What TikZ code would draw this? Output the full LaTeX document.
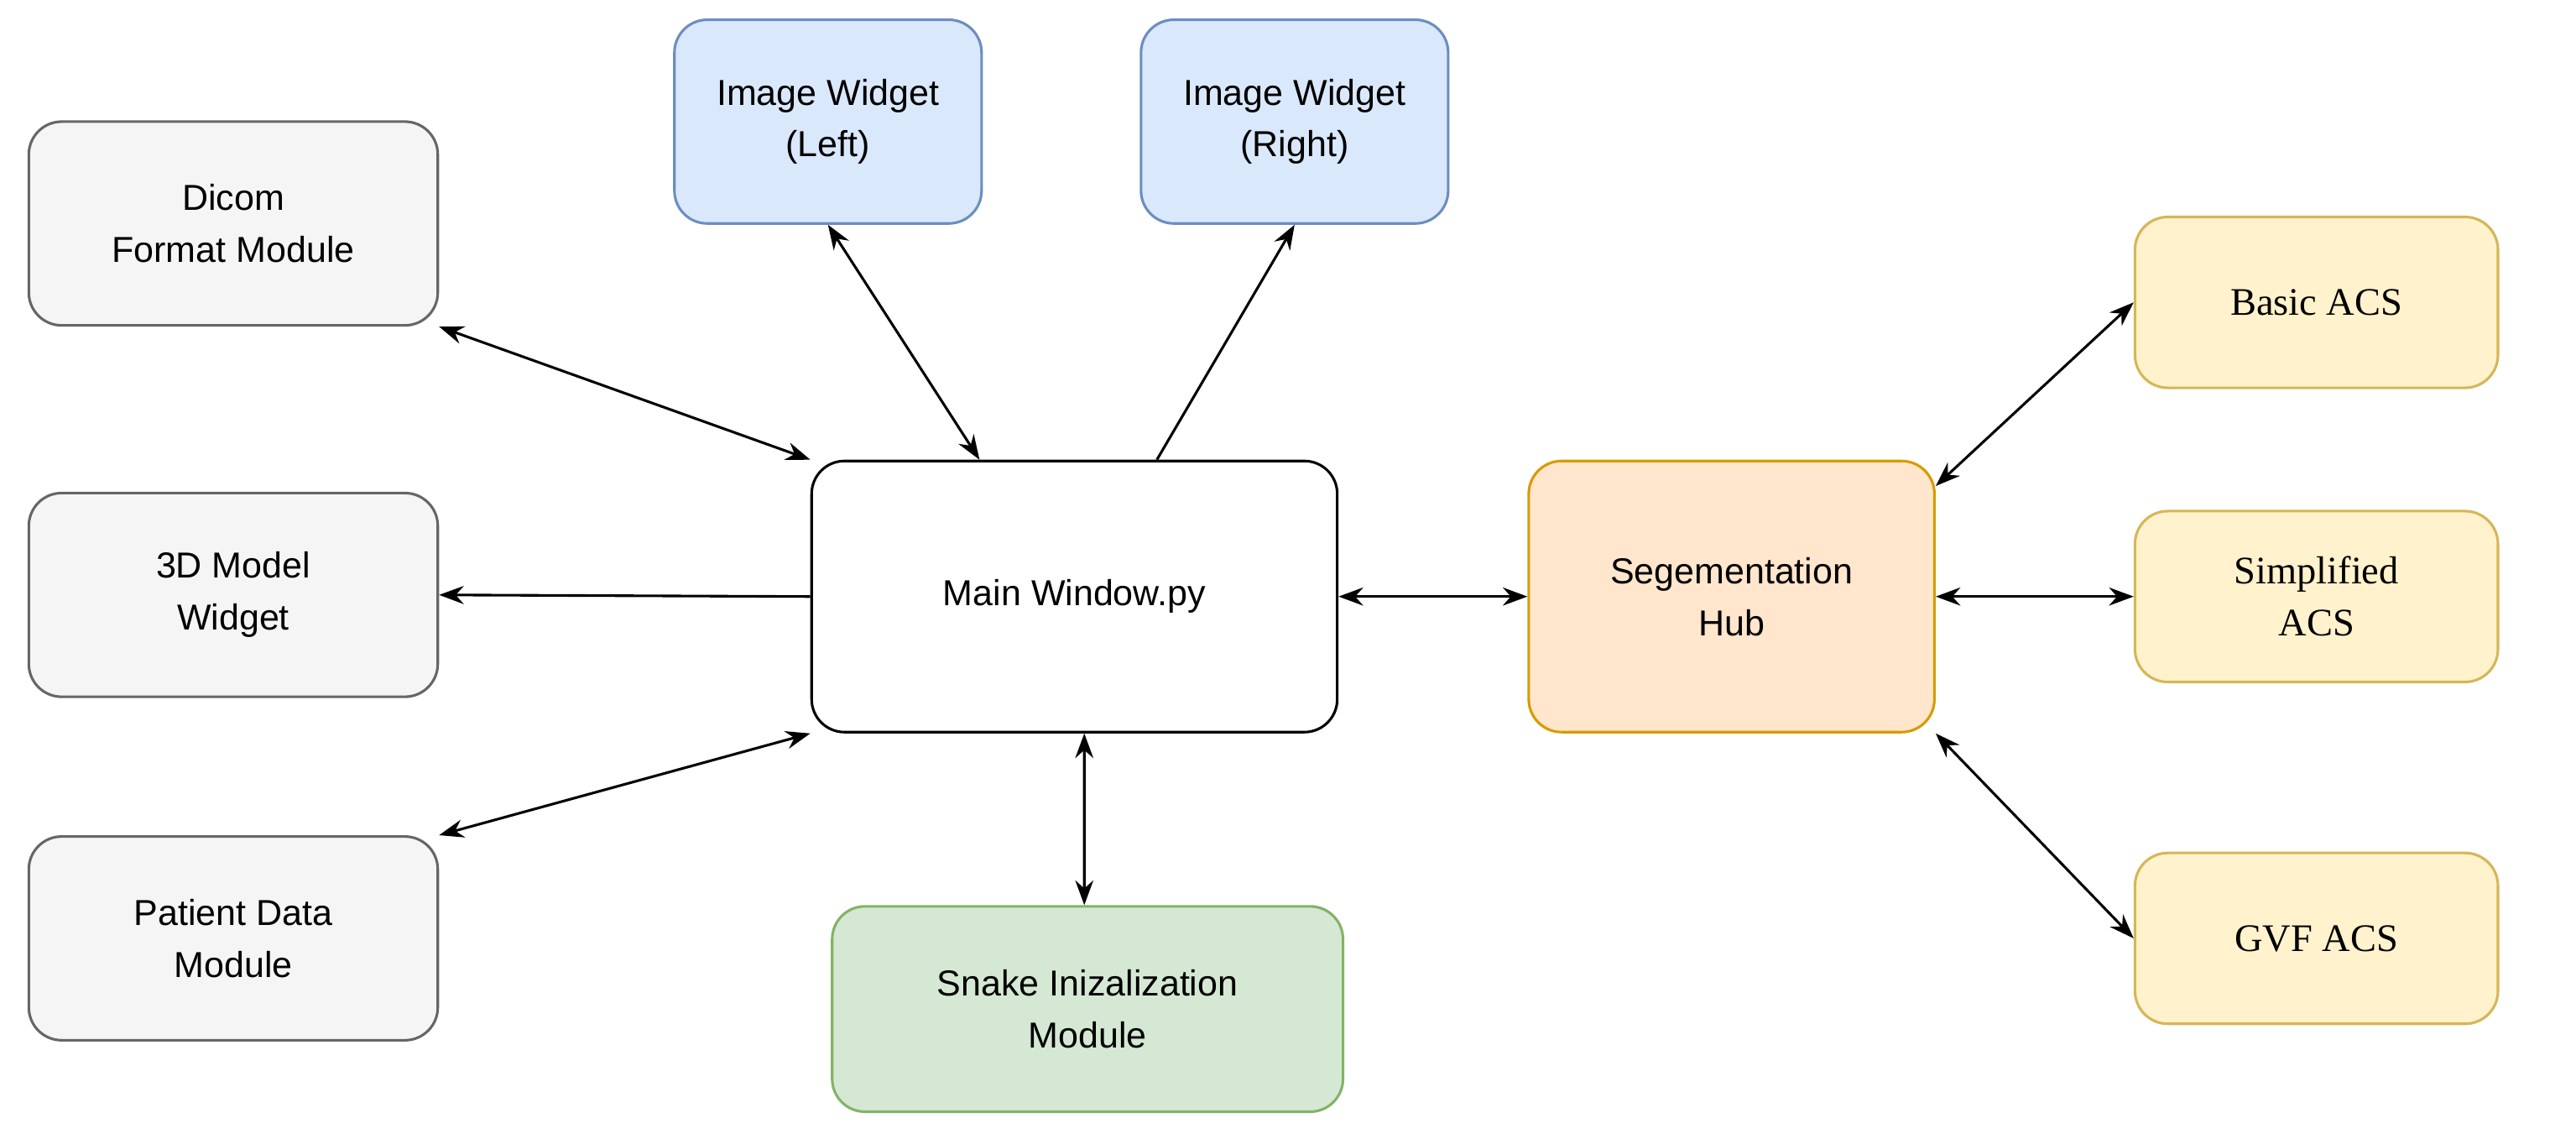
\documentclass[tikz,border=0pt]{standalone}
\usepackage{fontspec}
\setmainfont{Liberation Sans}
\newfontfamily\acsfont{Liberation Serif}
\usetikzlibrary{arrows.meta}
\usetikzlibrary{positioning}

\definecolor{grayfill}{HTML}{F5F5F5}
\definecolor{graydraw}{HTML}{666666}
\definecolor{bluefill}{HTML}{DAE8FC}
\definecolor{bluedraw}{HTML}{6C8EBF}
\definecolor{orangefill}{HTML}{FFE6CC}
\definecolor{orangedraw}{HTML}{D79B00}
\definecolor{greenfill}{HTML}{D5E8D4}
\definecolor{greendraw}{HTML}{82B366}
\definecolor{yellowfill}{HTML}{FFF2CC}
\definecolor{yellowdraw}{HTML}{D6B656}

\tikzset{
  box/.style={rectangle,rounded corners=0.4cm,line width=0.9pt,align=center,
    font=\fontsize{12.5}{18}\selectfont},
  module/.style={box,fill=grayfill,draw=graydraw,minimum width=4.98cm,minimum height=2.48cm},
  widget/.style={box,fill=bluefill,draw=bluedraw,minimum width=3.74cm,minimum height=2.48cm},
  acs/.style={box,fill=yellowfill,draw=yellowdraw,minimum width=4.42cm,minimum height=2.08cm,
    font=\acsfont\fontsize{13.5}{18}\selectfont},
  link/.style={line width=0.9pt,{Stealth[length=0.3cm,width=0.22cm]}-{Stealth[length=0.3cm,width=0.22cm]}},
  onelink/.style={line width=0.9pt,-{Stealth[length=0.3cm,width=0.22cm]}}
}

\begin{document}
\begin{tikzpicture}[x=0.02cm,y=-0.02cm]
\useasboundingbox[fill=white] (0,0) rectangle (1568,693);

% left column
\node[module] (dicom) at (142,136) {Dicom\\Format Module};
\node[module] (model) at (142,362) {3D Model\\Widget};
\node[module] (patient) at (142,571) {Patient Data\\Module};

% image widgets
\node[widget] (left) at (504,74) {Image Widget\\(Left)};
\node[widget] (right) at (788,74) {Image Widget\\(Right)};

% centre
\node[box,draw=black,fill=white,minimum width=6.4cm,minimum height=3.3cm] (main) at (654,363) {Main Window.py};
\node[box,fill=greenfill,draw=greendraw,minimum width=6.22cm,minimum height=2.5cm] (snake) at (662,614) {Snake Inizalization\\Module};
\node[box,fill=orangefill,draw=orangedraw,minimum width=4.94cm,minimum height=3.3cm] (hub) at (1054,363) {Segementation\\Hub};

% right column
\node[acs] (basic) at (1410,184) {Basic ACS};
\node[acs] (simple) at (1410,363) {Simplified\\ACS};
\node[acs] (gvf) at (1410,571) {GVF ACS};

\draw[link] (dicom.south east) -- (main.north west);
\draw[onelink] (main.west) -- (model.east);
\draw[link] (patient.north east) -- (main.south west);
\draw[link] (left.south) -- ([xshift=2.06cm]main.north west);
\draw[onelink] ([xshift=4.22cm]main.north west) -- (right.south);
\draw[link] (main.east) -- (hub.west);
\draw[link] ([xshift=0.12cm]main.south) -- ([xshift=-0.04cm]snake.north);
\draw[link] ([yshift=-0.32cm]hub.north east) -- (basic.west);
\draw[link] (hub.east) -- (simple.west);
\draw[link] (hub.south east) -- (gvf.west);
\end{tikzpicture}
\end{document}
